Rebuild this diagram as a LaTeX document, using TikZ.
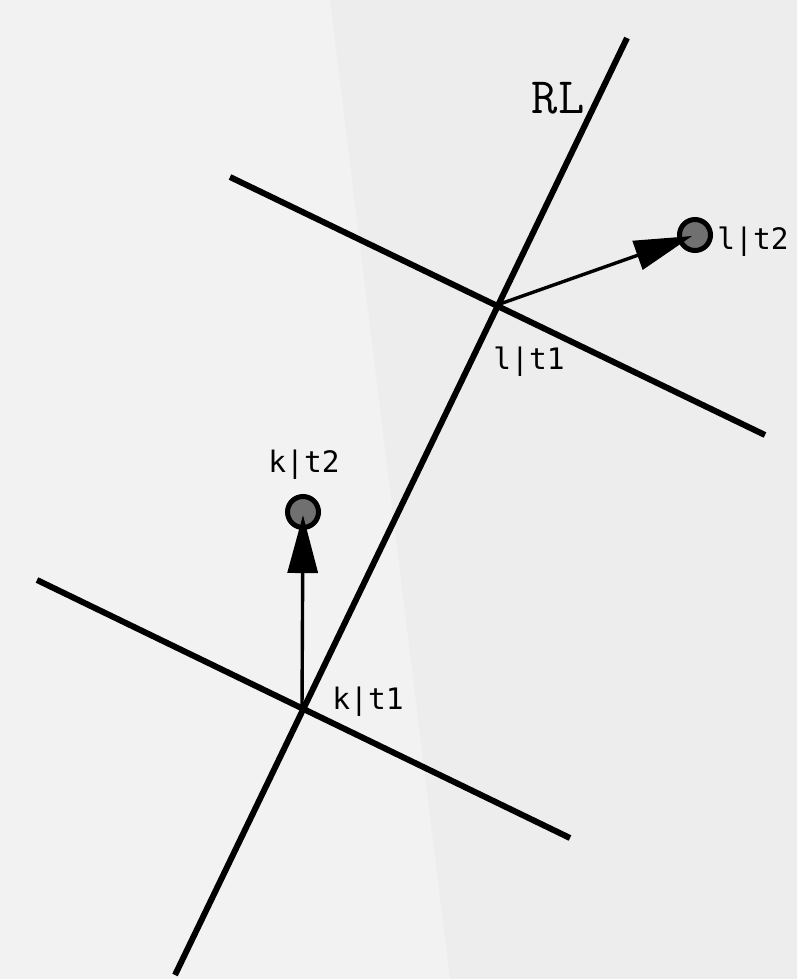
\documentclass[tikz,border=0pt]{standalone}
\usepackage{fontspec}
\newfontfamily\labelfont{DejaVu Sans Mono}
\usetikzlibrary{arrows.meta, calc}
\definecolor{bgleft}{HTML}{F2F2F2}
\definecolor{bgright}{HTML}{EDEDED}
\definecolor{dotfill}{HTML}{707070}

\begin{document}
\begin{tikzpicture}[
  x=0.01cm, y=-0.01cm,
  refline/.style={line width=0.06cm},
  movearrow/.style={line width=0.034cm, shorten >=0.03cm,
    -{Triangle[length=0.58cm, width=0.30cm]}},
  posdot/.style={circle, draw=black, line width=0.05cm, fill=dotfill,
    minimum size=0.31cm, inner sep=0pt},
  poslabel/.style={font=\labelfont\fontsize{8.4}{9}\selectfont, inner sep=0pt}
]
  \useasboundingbox (0,0) rectangle (797,979);

  % Background
  \fill[bgleft] (0,0) rectangle (797,979);
  \fill[bgright] (330,0) -- (797,0) -- (797,979) -- (450,979) -- cycle;

  % Reference line and the two cross lines
  \coordinate (rlbot) at (175,975);
  \coordinate (rltop) at (627,38);
  \coordinate (upleft) at (230,177);
  \coordinate (upright) at (765,435);
  \coordinate (lowleft) at (37,580);
  \coordinate (lowright) at (570,838);
  \coordinate (kt1) at (302,708);
  \coordinate (lt1) at (497,305);

  \draw[refline] (rlbot) -- (rltop);
  \draw[refline] (upleft) -- (upright);
  \draw[refline] (lowleft) -- (lowright);

  \node[font=\ttfamily\fontsize{14.5}{16}\selectfont, inner sep=0pt] (rl) at (558,98) {RL};

  % Positions at t2
  \node[posdot] (kt2) at (303,512) {};
  \node[posdot] (lt2) at (695,235) {};

  % Motion arrows
  \draw[movearrow] (kt1) -- (kt2.center);
  \draw[movearrow] (lt1) -- (lt2.center);

  % Labels
  \node[poslabel] (kt2lab) at (304,465) {k|t2};
  \node[poslabel] (kt1lab) at (368,702) {k|t1};
  \node[poslabel] (lt1lab) at (529,362) {l|t1};
  \node[poslabel] (lt2lab) at (753,242) {l|t2};
\end{tikzpicture}
\end{document}
